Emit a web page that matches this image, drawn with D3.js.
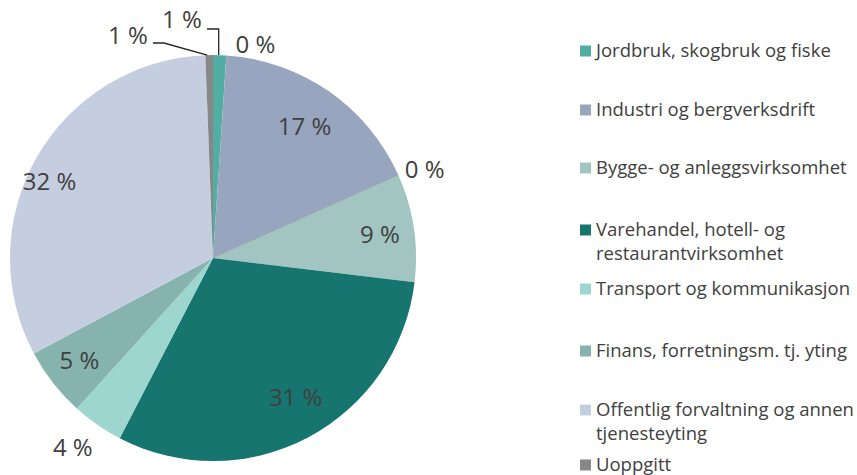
<!DOCTYPE html>
<html><head><meta charset="utf-8">
<script src="https://cdn.jsdelivr.net/npm/d3@7"></script>
<style>
html,body{margin:0;padding:0;background:#fff;}
svg{display:block;font-family:"Open Sans",Lato,sans-serif;}
</style></head>
<body>
<svg id="chart" width="857" height="475"></svg>
<script>
// ---- data ----
const categories = [
  "Jordbruk, skogbruk og fiske",
  "Bergverksdrift",
  "Industri og bergverksdrift",
  "Kraft- og vannforsyning",
  "Bygge- og anleggsvirksomhet",
  "Varehandel, hotell- og restaurantvirksomhet",
  "Transport og kommunikasjon",
  "Finans, forretningsm. tj. yting",
  "Offentlig forvaltning og annen tjenesteyting",
  "Uoppgitt"
];
const values = [1.05, 0, 17.25, 0, 8.6, 30.7, 4.1, 5.5, 32.2, 0.6];
const valueLabels = ["1 %", "0 %", "17 %", "0 %", "9 %", "31 %", "4 %", "5 %", "32 %", "1 %"];
const inLegend = [true, false, true, false, true, true, true, true, true, true];
const legendLines = [
  ["Jordbruk, skogbruk og fiske"],
  null,
  ["Industri og bergverksdrift"],
  null,
  ["Bygge- og anleggsvirksomhet"],
  ["Varehandel, hotell- og", "restaurantvirksomhet"],
  ["Transport og kommunikasjon"],
  ["Finans, forretningsm. tj. yting"],
  ["Offentlig forvaltning og annen", "tjenesteyting"],
  ["Uoppgitt"]
];

// ---- styles / layout ----
const colors = ["#52ada3", "#7fa6a0", "#98a5be", "#8f9a9a", "#a2c5c1", "#177570", "#9dd6cf", "#86b3ad", "#c5cedf", "#878787"];
const textColor = "#404040";
const cx = 213, cy = 258, R = 203;

const svg = d3.select("#chart");
const g = svg.append("g").attr("transform", `translate(${cx},${cy})`);

const pie = d3.pie().sort(null).value(d => d)(values);
const arc = d3.arc().innerRadius(0).outerRadius(R);

g.selectAll("path.slice").data(pie).join("path")
  .attr("class", "slice")
  .attr("d", arc)
  .attr("fill", (d, i) => colors[i]);

// thin separator visible at the zero slice between Industri and Bygge
g.append("line")
  .attr("x1", 0).attr("y1", 0)
  .attr("x2", R * Math.sin(pie[3].startAngle)).attr("y2", -R * Math.cos(pie[3].startAngle))
  .attr("stroke", "#8a9290").attr("stroke-width", 0.6).attr("opacity", 0.7);

// label placement: radius factor and angle tweak (deg) per slice
const labelPlace = [
  null,                       // Jordbruk -> leader label
  {rf: 1.07, da: 7.5},        // 0 %
  {rf: 0.79, da: 0},
  {rf: 1.13, da: 1.5},        // 0 %
  {rf: 0.83, da: 0.8},
  {rf: 0.80, da: -2.7},
  {rf: 1.16, da: 1.8},        // 4 % outside
  {rf: 0.83, da: 0.4},
  {rf: 0.89, da: -4.7},
  null                        // Uoppgitt -> leader label
];

const fs = 24;
pie.forEach((d, i) => {
  const p = labelPlace[i];
  if (!p) return;
  const a = (d.startAngle + d.endAngle) / 2 + p.da * Math.PI / 180;
  const r = R * p.rf;
  g.append("text")
    .attr("x", r * Math.sin(a))
    .attr("y", -r * Math.cos(a))
    .attr("dy", "0.35em")
    .attr("text-anchor", "middle")
    .attr("fill", textColor)
    .attr("font-size", fs)
    .text(valueLabels[i]);
});

// leader labels for the two small slices at the top
function leader(i, textX, textY) {
  const d = pie[i];
  const a = (d.startAngle + d.endAngle) / 2;
  const ex = R * Math.sin(a), ey = -R * Math.cos(a);
  g.append("text")
    .attr("x", textX).attr("y", textY)
    .attr("dy", "0.35em")
    .attr("text-anchor", "middle")
    .attr("fill", textColor).attr("font-size", fs)
    .text(valueLabels[i]);
  return {ex, ey};
}
{
  const lj = leader(0, 182 - cx, 20 - cy);
  g.append("path")
    .attr("d", `M${207 - cx},${29 - cy}H${lj.ex - 1}V${lj.ey}`)
    .attr("fill", "none").attr("stroke", "#262626").attr("stroke-width", 1.3);
  const lu = leader(9, 128 - cx, 36 - cy);
  g.append("path")
    .attr("d", `M${153 - cx},${43 - cy}H${164 - cx}L${lu.ex - 2},${lu.ey}`)
    .attr("fill", "none").attr("stroke", "#262626").attr("stroke-width", 1.3);
}

// ---- legend ----
const legendRows = [51, null, 110, null, 168, 230, 289, 351, 410, 465];
const lg = svg.append("g");
categories.forEach((c, i) => {
  if (!inLegend[i]) return;
  const y = legendRows[i];
  lg.append("rect")
    .attr("x", 580).attr("y", y - 5.5)
    .attr("width", 11).attr("height", 11)
    .attr("fill", colors[i]);
  const t = lg.append("text")
    .attr("x", 596).attr("y", y)
    .attr("fill", textColor)
    .attr("font-size", 18.5);
  legendLines[i].forEach((ln, k) => {
    t.append("tspan").attr("x", 596).attr("dy", k === 0 ? "0.35em" : 24).text(ln);
  });
});
</script>
</body></html>
